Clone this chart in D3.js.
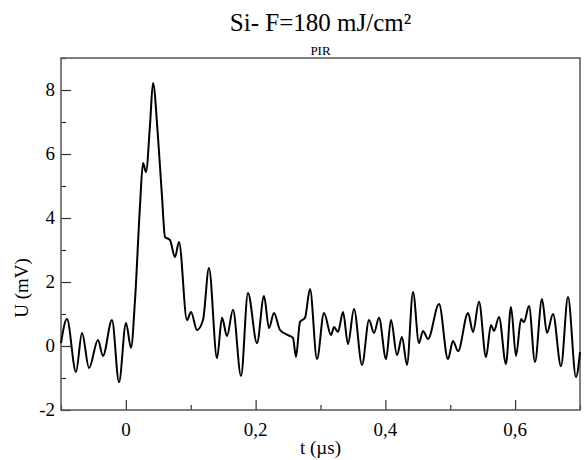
<!DOCTYPE html>
<html>
<head>
<meta charset="utf-8">
<script src="https://cdn.jsdelivr.net/npm/d3@7"></script>
<style>
  body { margin: 0; background: #fff; }
</style>
</head>
<body>
<div id="chart"></div>
<script>
// signal: time (µs) and voltage (mV)
const time = [
  -0.100, -0.0908, -0.0769, -0.0676, -0.0568, -0.0430, -0.0353, -0.0214, -0.0106, 0.0002,
  0.0079, 0.0141, 0.0218, 0.0264, 0.0310, 0.0372, 0.0418, 0.0495, 0.0557, 0.0603,
  0.0680, 0.0757, 0.0819, 0.0942, 0.1004, 0.1096, 0.1189, 0.1281, 0.1405, 0.1482,
  0.1559, 0.1651, 0.1775, 0.1882, 0.2021, 0.2129, 0.2206, 0.2283, 0.2376, 0.2499,
  0.2576, 0.2622, 0.2684, 0.2761, 0.2838, 0.2946, 0.3054, 0.3162, 0.3208, 0.3270,
  0.3347, 0.3424, 0.3516, 0.3640, 0.3748, 0.3825, 0.3902, 0.4010, 0.4087, 0.4179,
  0.4256, 0.4333, 0.4426, 0.4518, 0.4580, 0.4657, 0.4827, 0.4965, 0.5042, 0.5120,
  0.5274, 0.5351, 0.5443, 0.5551, 0.5628, 0.5674, 0.5751, 0.5859, 0.5936, 0.6014,
  0.6091, 0.6137, 0.6214, 0.6306, 0.6414, 0.6491, 0.6584, 0.6707, 0.6815, 0.6938,
  0.7000
]
const voltage = [
  0.09, 0.84, -0.81, 0.41, -0.69, 0.19, -0.31, 0.81, -1.13, 0.72,
  -0.06, 1.44, 4.40, 5.72, 5.44, 6.91, 8.22, 6.53, 4.66, 3.41,
  3.31, 2.78, 3.25, 0.81, 1.06, 0.50, 0.81, 2.44, -0.38, 0.88,
  0.31, 1.13, -0.94, 1.66, 0.09, 1.56, 0.56, 1.03, 0.50, 0.34,
  0.25, -0.34, 0.75, 0.88, 1.78, -0.41, 1.03, 0.34, 0.59, 0.44,
  1.06, 0.06, 1.16, -0.59, 0.81, 0.41, 0.88, -0.41, 0.81, -0.28,
  0.28, -0.59, 1.69, 0.09, 0.47, 0.22, 1.31, -0.41, 0.16, -0.16,
  1.03, 0.44, 1.38, -0.34, 0.66, 0.47, 0.91, -0.56, 1.22, -0.31,
  0.84, 0.75, 1.25, -0.50, 1.47, 0.41, 1.00, -0.63, 1.53, -0.97,
  -0.19
]

const xMajor = [0, 0.2, 0.4, 0.6]
const xMinor = [-0.1, 0.1, 0.3, 0.5, 0.7]
const yMajor = [-2, 0, 2, 4, 6, 8]
const yMinor = [-1, 1, 3, 5, 7, 9]

const title = 'Si- F=180 mJ/cm²'
const subtitle = 'PIR'
const xLabel = 't (µs)'
const yLabel = 'U (mV)'

const W = 588, H = 460
const margin = { top: 58, right: 8, bottom: 50, left: 61 }
const iw = W - margin.left - margin.right
const ih = H - margin.top - margin.bottom
const serif = '"Liberation Serif", "Times New Roman", Tinos, "DejaVu Serif", serif'

const fmt = d => String(d).replace('.', ',')

let svg = d3.select('#chart').append('svg')
  .attr('width', W)
  .attr('height', H)
  .attr('font-family', serif)

let g = svg.append('g')
  .attr('transform', `translate(${margin.left},${margin.top})`)

let x = d3.scaleLinear().domain([-0.1, 0.7]).range([0, iw])
let y = d3.scaleLinear().domain([-2, 9]).range([ih, 0])

// inward ticks, grace style
let xAxis = d3.axisTop(x).tickValues(xMajor).tickSize(10).tickFormat('')
let xAxisMinor = d3.axisTop(x).tickValues(xMinor).tickSize(5).tickFormat('')
let yAxis = d3.axisRight(y).tickValues(yMajor).tickSize(10).tickFormat('')
let yAxisMinor = d3.axisRight(y).tickValues(yMinor).tickSize(5).tickFormat('')

g.append('g').attr('transform', `translate(0,${ih})`).call(xAxis)
g.append('g').attr('transform', `translate(0,${ih})`).call(xAxisMinor)
g.append('g').call(yAxis)
g.append('g').call(yAxisMinor)
g.selectAll('.domain').remove()
g.selectAll('.tick line').attr('stroke', '#333').attr('stroke-width', 1.2)

// tick labels
g.selectAll('.xlab')
  .data(xMajor)
  .enter().append('text')
    .attr('x', d => x(d))
    .attr('y', ih + 26)
    .attr('text-anchor', 'middle')
    .attr('font-family', serif)
    .style('font-size', '19px')
    .text(fmt)

g.selectAll('.ylab')
  .data(yMajor)
  .enter().append('text')
    .attr('x', -6)
    .attr('y', d => y(d) + 6)
    .attr('text-anchor', 'end')
    .attr('font-family', serif)
    .style('font-size', '19px')
    .text(d => d)

// frame
g.append('rect')
  .attr('width', iw)
  .attr('height', ih)
  .attr('fill', 'none')
  .attr('stroke', '#555')
  .attr('stroke-width', 1.5)

let line = d3.line()
  .x(d => x(d[0]))
  .y(d => y(d[1]))
  .curve(d3.curveMonotoneX)

g.append('path')
  .datum(d3.zip(time, voltage))
  .attr('fill', 'none')
  .attr('stroke', '#000')
  .attr('stroke-width', 2)
  .attr('stroke-linejoin', 'round')
  .attr('d', line)

// titles
svg.append('text')
  .attr('x', margin.left + iw / 2)
  .attr('y', 31)
  .attr('text-anchor', 'middle')
  .style('font-size', '25px')
  .text(title)

svg.append('text')
  .attr('x', margin.left + iw / 2)
  .attr('y', 55)
  .attr('text-anchor', 'middle')
  .style('font-size', '13px')
  .text(subtitle)

svg.append('text')
  .attr('x', margin.left + iw / 2)
  .attr('y', 454)
  .attr('text-anchor', 'middle')
  .style('font-size', '19px')
  .text(xLabel)

svg.append('text')
  .attr('transform', `translate(28,288) rotate(-90)`)
  .attr('text-anchor', 'middle')
  .style('font-size', '19px')
  .text(yLabel)
</script>
</body>
</html>
